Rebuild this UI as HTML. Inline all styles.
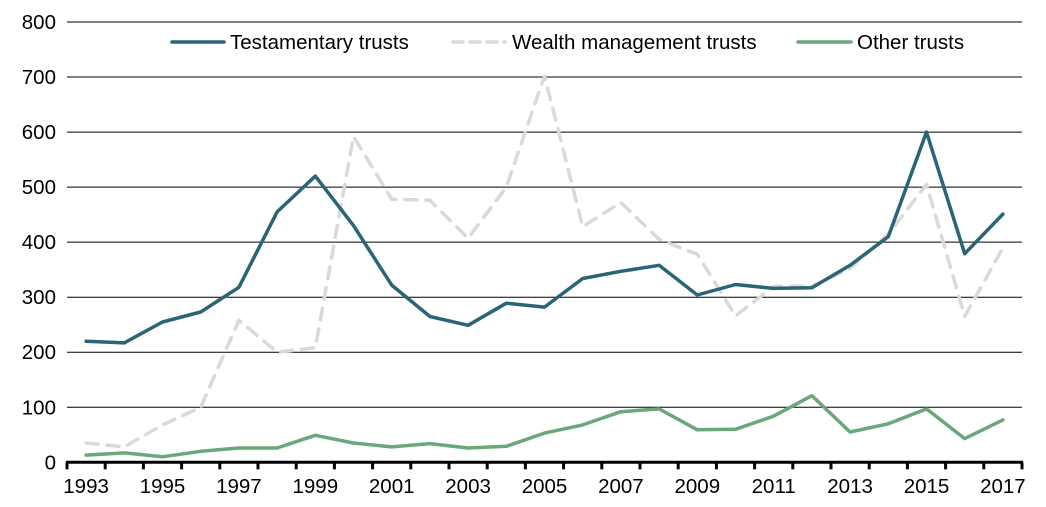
<!DOCTYPE html>
<html><head><meta charset="utf-8"><style>
body{margin:0;background:#fff;}
svg text{font-family:"Liberation Sans",Arial,sans-serif;fill:#000;}
</style></head><body>
<svg id="chart" width="1046" height="502" xmlns="http://www.w3.org/2000/svg">
<g id="grid"></g>
<g id="yaxis"></g>
<g id="xaxis"></g>
<g id="series"></g>
<g id="legend">
  <line x1="172" y1="42" x2="224" y2="42" stroke="#2a6577" stroke-width="3.5" stroke-linecap="round"/>
  <text x="230" y="49" font-size="20.5">Testamentary trusts</text>
  <line x1="453" y1="42" x2="505" y2="42" stroke="#d9d9d9" stroke-width="3.5" stroke-dasharray="10,7" stroke-linecap="round"/>
  <text x="512" y="49" font-size="20.5">Wealth management trusts</text>
  <line x1="798" y1="42" x2="851" y2="42" stroke="#6aa77a" stroke-width="3.5" stroke-linecap="round"/>
  <text x="857" y="49" font-size="20.5">Other trusts</text>
</g>
</svg>
<script>
const years = [1993,1994,1995,1996,1997,1998,1999,2000,2001,2002,2003,2004,2005,2006,2007,2008,2009,2010,2011,2012,2013,2014,2015,2016,2017];
const testamentary = [220,217,255,273,318,455,520,430,322,265,249,289,282,334,347,358,304,323,316,317,358,410,600,379,451];
const wealth = [35,28,68,100,258,200,208,592,478,476,407,500,702,428,472,405,378,266,320,320,352,415,505,265,390];
const other = [13,17,10,20,26,26,49,35,28,34,26,29,53,68,92,97,59,60,84,121,55,70,97,43,77];
const yTicks = [0,100,200,300,400,500,600,700,800];

const NS = "http://www.w3.org/2000/svg";
const x0 = 67, x1 = 1022, yBase = 462.3, yTop = 22;
const band = (x1 - x0) / years.length;
const xs = i => x0 + band * (i + 0.5);
const ys = v => yBase - (v / 800) * (yBase - yTop);
function mk(tag, attrs, parent){const e=document.createElementNS(NS,tag);for(const k in attrs)e.setAttribute(k,attrs[k]);parent.appendChild(e);return e;}

const grid = document.getElementById('grid'), yaxis = document.getElementById('yaxis'), xaxis = document.getElementById('xaxis'), series = document.getElementById('series');
yTicks.forEach(t => {
  if (t > 0) {
    const l = mk('line',{x1:x0,x2:x1,y1:ys(t),y2:ys(t),stroke:'#000','stroke-width':1},grid);
    
    
  }
  const tx = mk('text',{x:56,y:ys(t)+7,'text-anchor':'end','font-size':'20.5'},yaxis);
  tx.textContent = t;
  
  
});
const ax = mk('line',{x1:x0-1,x2:x1+1,y1:yBase,y2:yBase,stroke:'#000','stroke-width':3},xaxis);


for (let i = 0; i <= years.length; i++) {
  const tk = mk('line',{x1:x0+band*i,x2:x0+band*i,y1:yBase,y2:yBase+7,stroke:'#000','stroke-width':3},xaxis);
  
  
}
years.forEach((y,i) => {
  if (i % 2 === 0) {
    const tx = mk('text',{x:xs(i),y:493,'text-anchor':'middle','font-size':'20.5'},xaxis);
    tx.textContent = y;
    
    
  }
});
function line(data, color, dash, name){
  const d = data.map((v,i)=>(i?'L':'M')+xs(i).toFixed(1)+','+ys(v).toFixed(1)).join(' ');
  const p = mk('path',{d:d,fill:'none',stroke:color,'stroke-width':3.5,'stroke-linejoin':'round','stroke-linecap':'round'},series);
  if (dash) p.setAttribute('stroke-dasharray', dash);
  
  
}
line(wealth,'#d9d9d9','12,9','wealth-management-line');
line(other,'#6aa77a',null,'other-trusts-line');
line(testamentary,'#2a6577',null,'testamentary-line');
</script>
</body></html>
